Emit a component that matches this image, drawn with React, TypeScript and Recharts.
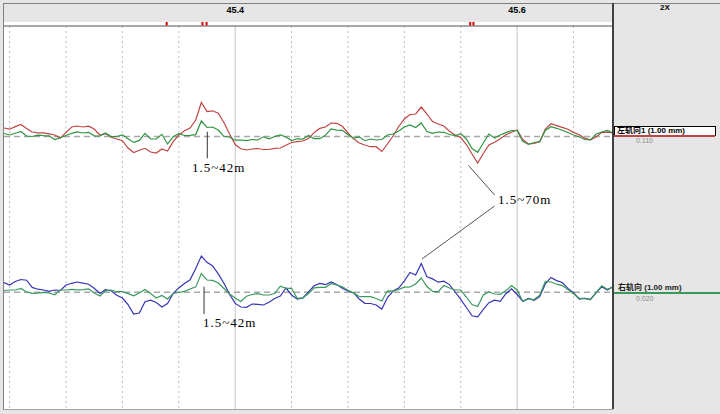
import { LineChart, Line, XAxis, YAxis, ReferenceLine } from 'recharts';

// track chainage (km), sampled every 4 m
const START_KM = 45.236;
const STEP_KM = 0.004;
const END_KM = 45.668;
const kmPoints = Array.from({ length: 109 }, (_, i) => +(START_KM + i * STEP_KM).toFixed(3));

const kmLabels = [45.4, 45.6];
const gridKm = [45.24, 45.28, 45.32, 45.36, 45.44, 45.48, 45.52, 45.56, 45.64];
const defectKm = [45.3514, 45.3768, 45.3797, 45.5667, 45.569];

// 左轨向 (mm)
const leftRed = [
  0.85, 0.73, 0.99, 1.2, 0.8, 0.45, 0.37, 0.36, 0.27, 0.15,
  -0.15, 0.41, 0.95, 1.05, 0.95, 1.03, 0.75, 0.15, 0.29, -0.08,
  -0.25, -0.42, -1.15, -1.6, -1.38, -1.18, -1.55, -1.65, -1.25, -1.45,
  -0.52, 0.15, 0.57, 0.85, 1.65, 3.4, 2.5, 2.57, 2.32, 1.4,
  0.25, -0.8, -1.23, -1.35, -1.25, -1.2, -1.3, -1.3, -1.18, -1.15,
  -0.88, -0.6, -0.52, -0.45, -0.2, 0.39, 0.81, 0.95, 1.35, 1.32,
  1.02, 0.35, -0.23, -0.65, -0.85, -1.02, -1.02, -1.5, -0.75, 0.05,
  1.0, 1.75, 2.2, 2.25, 2.95, 2.25, 1.49, 1.25, 1.05, 0.52,
  0.15, -0.1, -0.8, -1.75, -2.65, -1.7, -0.85, -0.58, -0.22, 0.18,
  0.43, 0.65, -0.3, -0.75, -0.7, -0.52, 0.75, 1.28, 1.09, 0.91,
  0.72, 0.41, 0.17, -0.17, -0.33, -0.05, 0.42, 0.43, 0.35,
];
const leftGreen = [
  0.3, 0.15, 0.32, 0.5, 0.05, 0, 0.13, 0.09, 0.07, -0.3,
  -0.13, 0.1, 0.32, 0.46, 0.35, 0.42, 0.07, 0.05, 0.35, -0.01,
  0, 0.15, -0.22, -0.59, -0.39, 0.32, -0.25, -0.25, 0.22, -0.75,
  -0.03, 0.29, 0.1, 0.12, 0.19, 1.55, 0.9, 0.95, 0.65, 0,
  -0.05, -0.37, -0.35, -0.41, -0.3, -0.35, -0.03, -0.24, 0, 0.16,
  -0.05, -0.4, -0.23, -0.27, 0.11, -0.21, -0.22, 0.12, 0.76, 0.63,
  0.62, 0.18, -0.17, -0.03, -0.42, -0.25, -0.35, -0.3, 0.15, 0.25,
  0.55, 0.95, 1.15, 0.9, 1.35, 0.5, 0.32, 0.45, 0.42, 0.2,
  0.08, 0.27, -0.25, -1.2, -1.58, -0.65, 0.25, -0.15, 0.15, 0.39,
  0.6, 0.6, -0.47, -0.79, -0.6, -0.52, 0.6, 0.98, 0.82, 0.63,
  0.4, 0.15, -0.02, -0.3, -0.35, 0.25, 0.45, 0.6, 0.35,
];
// 右轨向 (mm)
const rightBlue = [
  0.98, 0.73, 1.08, 1.28, 1.21, 0.49, 0.31, 0.23, 0.09, 0.23,
  0.18, 0.73, 0.9, 1.03, 0.91, 0.81, 0.41, -0.12, 0.26, 0.16,
  -0.29, -0.57, -1.24, -2.17, -2.07, -0.94, -0.79, -1.02, -1.47, -1.12,
  -0.12, 0.44, 0.87, 1.25, 2.39, 3.63, 3.0, 2.63, 1.84, 0.9,
  -0.19, -1.11, -1.47, -1.5, -1.17, -1.2, -1.27, -1.0, -0.62, -0.37,
  0.43, -0.27, -0.67, -0.57, 0.04, 0.65, 0.89, 0.76, 1.03, 0.78,
  0.4, 0.13, -0.06, -0.67, -1.1, -1.12, -1.27, -1.67, -0.52, 0.13,
  0.43, 1.15, 1.98, 1.73, 2.88, 1.55, 1.34, 1.01, 1.11, 0.77,
  0.03, -0.71, -1.52, -2.35, -2.45, -1.71, -1.04, -0.78, -0.9, -0.14,
  0.35, -0.22, -0.9, -0.61, -0.81, -0.42, 0.84, 1.49, 1.17, 0.98,
  0.39, -0.05, -0.67, -0.61, -0.71, -0.03, 0.55, 0.23, 0.58,
];
const rightGreen = [
  0.18, 0.23, 0.23, 0.38, 0.03, -0.1, -0.09, 0, -0.07, -0.25,
  0.23, 0.23, 0.29, 0.24, 0.27, 0.35, -0.07, -0.37, 0.15, 0.23,
  0.06, 0.06, -0.13, -0.35, -0.07, 0.29, -0.13, -0.57, -0.32, -0.67,
  -0.12, -0.02, 0.1, 0.33, 0.54, 1.88, 1.23, 1.19, 0.93, 0.38,
  -0.17, -0.57, -0.91, -0.39, -0.22, -0.13, -0.27, -0.27, -0.12, 0.61,
  0.4, 0.4, -0.6, -0.55, -0.12, 0.45, 0.5, 0.5, 0.86, 0.73,
  0.54, 0.21, -0.06, -0.42, -0.44, -0.44, -0.62, -0.87, 0.15, 0.11,
  0.28, 0.51, 0.53, 0.83, 1.43, 0.58, 0.09, 0.06, 0.68, 0.43,
  0.23, 0.23, -0.47, -1.22, -1.43, -0.27, 0.03, -0.17, -0.2, 0.17,
  0.67, 0.23, -0.92, -0.65, -0.72, -0.29, 1.09, 1.03, 0.81, 0.67,
  0.27, -0.14, -0.6, -0.6, -0.75, -0.05, 0.66, 0.3, 0.53,
];

const data = kmPoints.map((km, i) => ({
  km,
  leftRed: leftRed[i],
  leftGreen: leftGreen[i],
  rightBlue: rightBlue[i],
  rightGreen: rightGreen[i],
}));

const topTicks = [...kmLabels, ...defectKm].sort((a, b) => a - b);

const RED = '#c04444';
const GREEN = '#2f9440';
const GREEN2 = '#3a9a5c';
const BLUE = '#3535b5';
const SANS = '"Liberation Sans", Arial, "Noto Sans CJK SC", sans-serif';
const SERIF = '"Liberation Serif", "DejaVu Serif", serif';

// km labels in the header, red defect marks just above the plot
const TopTick = (props: any) => {
  const { x, y, payload } = props;
  if (kmLabels.includes(payload.value)) {
    return (
      <text x={x} y={y - 13} textAnchor="middle" fontSize={9} fontWeight="bold" fontFamily={SANS} fill="#000">
        {payload.value.toFixed(1)}
      </text>
    );
  }
  return <rect x={x - 1} y={y - 4} width={2} height={3.5} fill="#e00000" />;
};

export default function App() {
  return (
    <div
      style={{
        position: 'absolute',
        left: 0,
        top: 0,
        width: 720,
        height: 414,
        background: '#e6e6e6',
        overflow: 'hidden',
        fontFamily: SANS,
      }}
    >
      <div style={{ position: 'absolute', left: 3, top: 3, width: 717, height: 1, background: '#808080' }} />
      <div style={{ position: 'absolute', left: 3, top: 3, width: 1, height: 406, background: '#808080' }} />
      <div style={{ position: 'absolute', left: 4, top: 22, width: 609, height: 387, background: '#fff' }} />
      <div style={{ position: 'absolute', left: 3, top: 409, width: 610, height: 1, background: '#a0a0a0' }} />

      <div style={{ position: 'absolute', left: 0, top: 0 }}>
        <LineChart width={613} height={409} data={data} margin={{ top: 0, right: 0, bottom: 0, left: 4 }}>
          <XAxis
            xAxisId="km"
            dataKey="km"
            type="number"
            orientation="top"
            domain={[START_KM, END_KM]}
            allowDataOverflow
            ticks={topTicks}
            interval={0}
            height={26}
            tickLine={false}
            tickSize={0}
            tickMargin={0}
            tick={<TopTick />}
            axisLine={{ stroke: '#505050', strokeWidth: 1 }}
          />
          <YAxis yAxisId="top" type="number" hide domain={[-27.25, 11.05]} allowDataOverflow />
          <YAxis yAxisId="bot" type="number" hide domain={[-11.67, 26.63]} allowDataOverflow />

          {gridKm.map((k) => (
            <ReferenceLine
              key={k}
              x={k}
              xAxisId="km"
              yAxisId="top"
              stroke="#bdbdbd"
              strokeDasharray="2 3"
            />
          ))}
          {kmLabels.map((k) => (
            <ReferenceLine key={k} x={k} xAxisId="km" yAxisId="top" stroke="#c4c4c4" />
          ))}

          <ReferenceLine y={0} xAxisId="km" yAxisId="top" stroke="#a8a8a8" strokeWidth={1.5} strokeDasharray="6 4" />
          <ReferenceLine y={0} xAxisId="km" yAxisId="bot" stroke="#a8a8a8" strokeWidth={1.5} strokeDasharray="6 4" />

          <Line xAxisId="km" yAxisId="top" type="linear" dataKey="leftRed" stroke={RED} strokeWidth={1.2} dot={false} isAnimationActive={false} />
          <Line xAxisId="km" yAxisId="top" type="linear" dataKey="leftGreen" stroke={GREEN} strokeWidth={1.2} dot={false} isAnimationActive={false} />
          <Line xAxisId="km" yAxisId="bot" type="linear" dataKey="rightBlue" stroke={BLUE} strokeWidth={1.2} dot={false} isAnimationActive={false} />
          <Line xAxisId="km" yAxisId="bot" type="linear" dataKey="rightGreen" stroke={GREEN2} strokeWidth={1.2} dot={false} isAnimationActive={false} />

          {/* annotation leaders */}
          <ReferenceLine xAxisId="km" yAxisId="top" stroke="#333" segment={[{ x: 45.3802, y: 0.48 }, { x: 45.3802, y: -2.18 }]} />
          <ReferenceLine xAxisId="km" yAxisId="bot" stroke="#333" segment={[{ x: 45.3779, y: 0.56 }, { x: 45.3779, y: -2.17 }]} />
          <ReferenceLine xAxisId="km" yAxisId="top" stroke="#555" segment={[{ x: 45.5655, y: -2.9 }, { x: 45.584, y: -5.85 }]} />
          <ReferenceLine xAxisId="km" yAxisId="bot" stroke="#555" segment={[{ x: 45.5325, y: 3.33 }, { x: 45.584, y: 8.63 }]} />
        </LineChart>
      </div>

      <svg width={720} height={414} style={{ position: 'absolute', left: 0, top: 0, pointerEvents: 'none' }}>
        <text x={192} y={172} fontFamily={SERIF} fontSize={13} letterSpacing={1} fill="#000">1.5~42m</text>
        <text x={203} y={327} fontFamily={SERIF} fontSize={13} letterSpacing={1} fill="#000">1.5~42m</text>
        <text x={498} y={204} fontFamily={SERIF} fontSize={13} letterSpacing={1} fill="#000">1.5~70m</text>
      </svg>

      {/* right legend panel */}
      <div style={{ position: 'absolute', left: 612, top: 3, width: 2, height: 406, background: '#404040' }} />
      <div style={{ position: 'absolute', left: 660, top: 3, fontSize: 8, fontWeight: 'bold', lineHeight: '10px' }}>2X</div>

      <div
        style={{
          position: 'absolute',
          left: 614,
          top: 126,
          width: 98,
          height: 8,
          border: '1px solid #000',
          background: '#fff',
          fontSize: 8,
          fontWeight: 'bold',
          lineHeight: '8px',
          paddingLeft: 2,
          whiteSpace: 'nowrap',
        }}
      >
        左轨向1 (1.00 mm)
      </div>
      <div style={{ position: 'absolute', left: 614, top: 135, width: 101, height: 1.5, background: RED }} />
      <div style={{ position: 'absolute', left: 636, top: 137, fontSize: 7, color: '#8a8a8a', lineHeight: '8px' }}>0.110</div>

      <div
        style={{
          position: 'absolute',
          left: 618,
          top: 283,
          fontSize: 8,
          fontWeight: 'bold',
          lineHeight: '9px',
          whiteSpace: 'nowrap',
          color: '#222',
        }}
      >
        右轨向 (1.00 mm)
      </div>
      <div style={{ position: 'absolute', left: 614, top: 292, width: 106, height: 1.5, background: GREEN2 }} />
      <div style={{ position: 'absolute', left: 636, top: 295, fontSize: 7, color: '#8a8a8a', lineHeight: '8px' }}>0.020</div>
    </div>
  );
}
